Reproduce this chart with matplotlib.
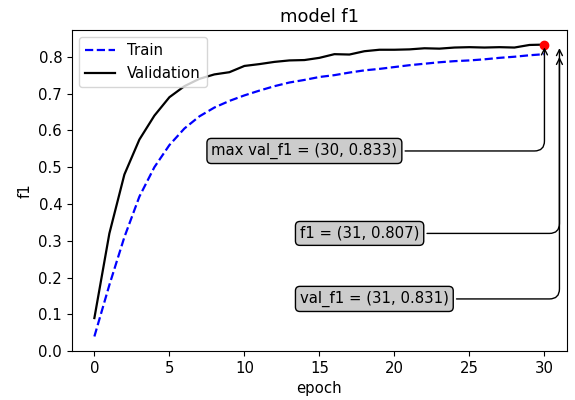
import matplotlib
matplotlib.use("Agg")
import matplotlib.pyplot as plt

plt.rcParams["font.size"] = 10.7

# f1 per epoch
train_f1 = [0.04, 0.18, 0.31, 0.42, 0.50, 0.56, 0.605, 0.638, 0.662, 0.68,
            0.695, 0.708, 0.72, 0.73, 0.737, 0.745, 0.75, 0.757, 0.763, 0.767,
            0.772, 0.777, 0.781, 0.785, 0.788, 0.79, 0.793, 0.797, 0.80, 0.804,
            0.807]
val_f1 = [0.09, 0.32, 0.48, 0.575, 0.64, 0.69, 0.72, 0.74, 0.752, 0.758,
          0.775, 0.78, 0.786, 0.79, 0.791, 0.797, 0.807, 0.806, 0.815, 0.819,
          0.819, 0.82, 0.823, 0.822, 0.825, 0.826, 0.825, 0.826, 0.825, 0.832,
          0.833]
epochs = list(range(len(train_f1)))

best_epoch = 30
best_val = 0.833
last_epoch = 31
last_f1 = 0.807
last_val = 0.831

fig, ax = plt.subplots(figsize=(5.75, 4), dpi=100)
fig.subplots_adjust(left=0.125, right=0.986, top=0.925, bottom=0.122)
ax.plot(epochs, train_f1, "b--", label="Train", linewidth=1.6)
ax.plot(epochs, val_f1, "k-", label="Validation", linewidth=1.6)
ax.plot(best_epoch, best_val, "ro")

bbox = dict(boxstyle="round", fc="0.8")
arrow = dict(arrowstyle="->", connectionstyle="angle,angleA=0,angleB=90,rad=10")

ax.annotate("max val_f1 = (%d, %.3f)" % (best_epoch, best_val),
            xy=(best_epoch, best_val), xytext=(7.8, 0.544),
            ha="left", va="center", bbox=bbox, arrowprops=arrow)
ax.annotate("f1 = (%d, %.3f)" % (last_epoch, last_f1),
            xy=(last_epoch, last_f1), xytext=(13.7, 0.32),
            ha="left", va="center", bbox=bbox, arrowprops=arrow)
ax.annotate("val_f1 = (%d, %.3f)" % (last_epoch, last_val),
            xy=(last_epoch, last_val), xytext=(13.7, 0.142),
            ha="left", va="center", bbox=bbox, arrowprops=arrow)

ax.set_ylim(bottom=0)
ax.set_title("model f1")
ax.set_ylabel("f1")
ax.set_xlabel("epoch")
ax.legend(loc="upper left")

plt.savefig("out.png")
